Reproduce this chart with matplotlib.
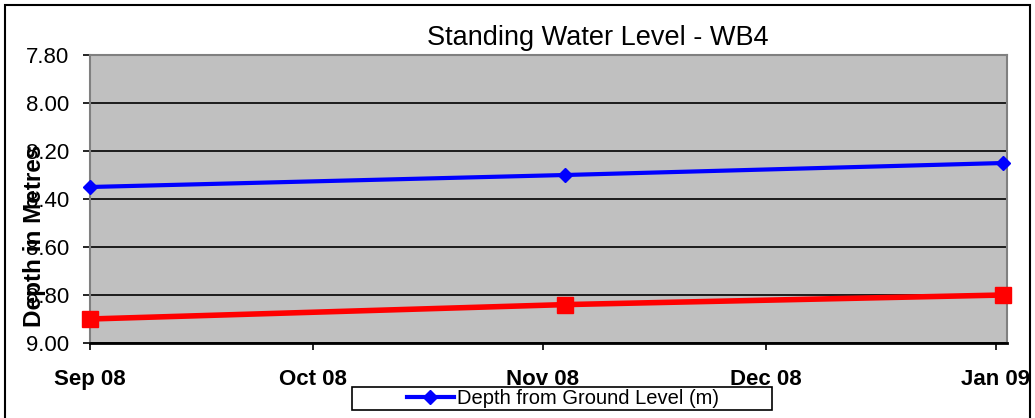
import datetime as dt
import matplotlib
matplotlib.use('Agg')
import matplotlib.pyplot as plt
import matplotlib.dates as mdates
from matplotlib.patches import Rectangle

plt.rcParams['font.family'] = ['Liberation Sans', 'DejaVu Sans']

# readings
dates = [dt.date(2008, 9, 1), dt.date(2008, 11, 4), dt.date(2009, 1, 2)]
depth_ground = [8.35, 8.30, 8.25]
depth_other = [8.90, 8.84, 8.80]
tick_dates = [dt.date(2008, 9, 1), dt.date(2008, 10, 1), dt.date(2008, 11, 1),
              dt.date(2008, 12, 1), dt.date(2009, 1, 1)]
y_ticks = [7.80, 8.00, 8.20, 8.40, 8.60, 8.80, 9.00]

fig = plt.figure(figsize=(10.35, 4.18), dpi=100)
ax = fig.add_axes([90 / 1035, 1 - 343 / 418, 917 / 1035, 288 / 418])
ax.set_facecolor('#c0c0c0')

ax.plot(dates, depth_ground, color='#0000ff', lw=3, marker='D', ms=7,
        label='Depth from Ground Level (m)', zorder=4, clip_on=False)
ax.plot(dates, depth_other, color='#ff0000', lw=4, marker='s', ms=11,
        zorder=4, clip_on=False)

ax.set_ylim(9.00, 7.80)
ax.set_yticks(y_ticks)
ax.set_yticklabels(['%.2f' % v for v in y_ticks])
ax.set_xlim(dt.date(2008, 9, 1), dt.datetime(2009, 1, 2, 12))
ax.set_xticks(tick_dates)
ax.xaxis.set_major_formatter(mdates.DateFormatter('%b %y'))

ax.grid(axis='y', color='black', lw=1.2)
ax.set_axisbelow(True)
for s in ['left', 'right', 'top']:
    ax.spines[s].set_color('#808080')
    ax.spines[s].set_linewidth(1.5)
ax.spines['bottom'].set_color('black')
ax.spines['bottom'].set_linewidth(2)

ax.tick_params(axis='y', length=5, width=1.2, pad=10, labelsize=16)
ax.tick_params(axis='x', length=5, width=1.2, pad=14, labelsize=16)
for t in ax.get_xticklabels():
    t.set_fontweight('bold')

fig.text(35 / 1035, 1 - 236 / 418, 'Depth in Metres', rotation=90,
         fontsize=17.5, fontweight='bold', ha='center', va='center')
fig.text(598 / 1035, 1 - 38 / 418, 'Standing Water Level - WB4',
         fontsize=19.5, ha='center', va='center')

leg = fig.legend(loc='center', bbox_to_anchor=(563 / 1035, 1 - 399 / 418),
                 frameon=False, fontsize=14.5, handlelength=2.3,
                 borderpad=0, handletextpad=0.15, borderaxespad=0)
fig.patches.append(Rectangle((352 / 1035, 1 - 410 / 418), 420 / 1035, 23 / 418,
                             transform=fig.transFigure, fill=False,
                             edgecolor='black', lw=1.2))

fig.patches.append(Rectangle((5 / 1035, -0.1), 1025 / 1035, 1.1 - 5 / 418,
                             transform=fig.transFigure, fill=False,
                             edgecolor='black', lw=1.5))

fig.savefig('out.png', dpi=100)
